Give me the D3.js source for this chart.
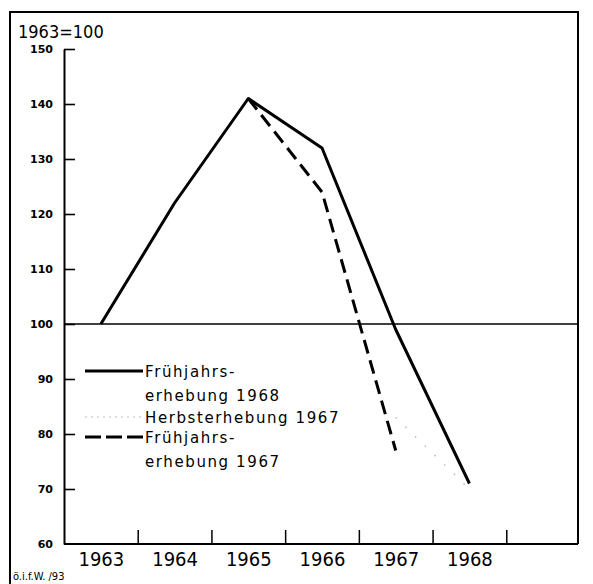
<!DOCTYPE html>
<html>
<head>
<meta charset="utf-8">
<script src="https://cdn.jsdelivr.net/npm/d3@7"></script>
<style>
  body { margin: 0; background: #fff; }
  svg { display: block; }
  .ylab text { font-family: "DejaVu Sans"; font-weight: bold; font-size: 11px; }
  .xlab text { font-family: "Liberation Sans Narrow", "DejaVu Sans Condensed"; font-size: 20px; }
  .leg { font-family: "DejaVu Sans"; font-size: 15px; letter-spacing: 1.6px; }
</style>
</head>
<body>
<div id="chart"></div>
<script>
// values (index, 1963 = 100)
const years = [1963, 1964, 1965, 1966, 1967, 1968];
const fruehjahr1968 = [100, 122, 141, 132, 99, 71];
const herbstYears = [1967, 1968];
const herbst1967 = [83, 70];
const fruehYears1967 = [1965, 1966, 1967];
const fruehjahr1967 = [141, 124, 77];
const yTicks = [60, 70, 80, 90, 100, 110, 120, 130, 140, 150];
const xBreaks = [1963.5, 1964.5, 1965.5, 1966.5, 1967.5, 1968.5];

const W = 593, H = 584;
const svg = d3.select("#chart").append("svg").attr("width", W).attr("height", H);

const x = d3.scaleLinear().domain([1962.5, 1969.5]).range([64, 580]);
const y = d3.scaleLinear().domain([60, 150]).range([544, 49]);

// outer frame (no bottom edge)
svg.append("path")
  .attr("d", "M10,584V12H578V544")
  .attr("fill", "none").attr("stroke", "#000").attr("stroke-width", 2);

// y axis, ticks pointing inward
const yAx = svg.append("g").attr("class", "ylab")
  .attr("transform", "translate(64,0)")
  .call(d3.axisLeft(y).tickValues(yTicks).tickSize(-11).tickPadding(11).tickSizeOuter(0));
yAx.select(".domain").attr("stroke-width", 2);
yAx.selectAll(".tick line").attr("stroke-width", 1.6);
yAx.selectAll(".tick").filter(d => d === 60).select("line").remove();

// x axis: interval breaks as upward ticks, years as labels in between
const xAx = svg.append("g").attr("transform", "translate(0,544)")
  .call(d3.axisBottom(x).tickValues(xBreaks).tickSize(-14).tickFormat("").tickSizeOuter(0));
xAx.select(".domain").attr("d", "M64,0H578").attr("stroke-width", 2);
xAx.selectAll(".tick line").attr("stroke-width", 1.5);

const xLab = svg.append("g").attr("class", "xlab").attr("transform", "translate(0,544)")
  .call(d3.axisBottom(x).tickValues(years).tickSize(0).tickPadding(8).tickFormat(d3.format("d")));
xLab.select(".domain").remove();

// base line 1963 = 100
svg.append("line")
  .attr("x1", 64).attr("x2", 578).attr("y1", y(100)).attr("y2", y(100))
  .attr("stroke", "#000").attr("stroke-width", 1.5);

const line = d3.line().x(d => x(d[0])).y(d => y(d[1]));

svg.append("path")
  .datum(years.map((d, i) => [d, fruehjahr1968[i]]))
  .attr("d", line).attr("fill", "none")
  .attr("stroke", "#000").attr("stroke-width", 3).attr("stroke-linejoin", "round");

svg.append("path")
  .datum(fruehYears1967.map((d, i) => [d, fruehjahr1967[i]]))
  .attr("d", line).attr("fill", "none")
  .attr("stroke", "#000").attr("stroke-width", 3).attr("stroke-dasharray", "14,7");

// autumn survey: only faint dots survive in the print
svg.append("path")
  .datum(herbstYears.map((d, i) => [d, herbst1967[i]]))
  .attr("d", line).attr("fill", "none")
  .attr("stroke", "#bbb").attr("stroke-width", 1.5).attr("stroke-dasharray", "1.5,12");

// legend
const legend = [
  { y: 371, dash: null, color: "#000", w: 3, lines: ["Frühjahrs-", "erhebung 1968"] },
  { y: 417, dash: "2,4", color: "#bbb", w: 1.2, lines: ["Herbsterhebung 1967"] },
  { y: 437, dash: "16,5", color: "#000", w: 3, lines: ["Frühjahrs-", "erhebung 1967"] }
];
legend.forEach(l => {
  svg.append("line").attr("x1", 85).attr("x2", 143).attr("y1", l.y).attr("y2", l.y)
    .attr("stroke", l.color).attr("stroke-width", l.w)
    .attr("stroke-dasharray", l.dash);
  l.lines.forEach((t, j) => {
    svg.append("text").attr("class", "leg")
      .attr("x", 145).attr("y", l.y + 6 + j * 24).text(t);
  });
});

svg.append("text").attr("x", 18).attr("y", 38)
  .style("font-family", "DejaVu Sans Condensed").style("font-size", "18px")
  .text("1963=100");

svg.append("text").attr("x", 13).attr("y", 580)
  .style("font-family", "DejaVu Sans Condensed").style("font-size", "11px")
  .text("ö.i.f.W. /93");
</script>
</body>
</html>
